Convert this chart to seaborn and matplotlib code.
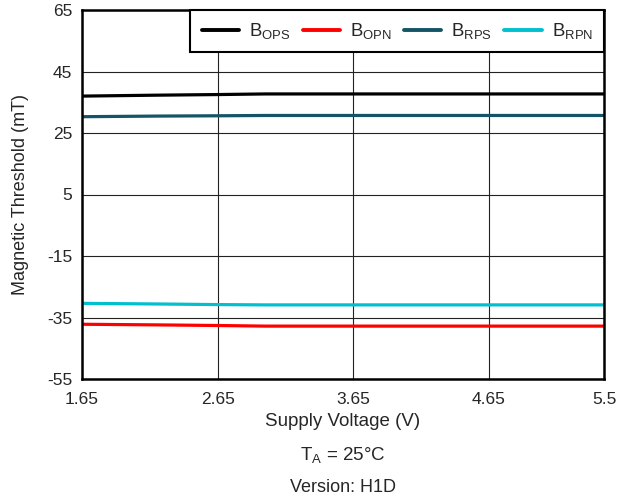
import matplotlib
matplotlib.use("Agg")
import matplotlib.pyplot as plt
import seaborn as sns
import pandas as pd

voltage = [1.65, 2.2, 2.65, 3.0, 3.65, 4.65, 5.5]
b_ops = [37.0, 37.3, 37.5, 37.7, 37.7, 37.7, 37.7]
b_opn = [-37.2, -37.4, -37.6, -37.8, -37.8, -37.8, -37.8]
b_rps = [30.3, 30.5, 30.6, 30.7, 30.7, 30.7, 30.7]
b_rpn = [-30.4, -30.6, -30.8, -30.9, -30.9, -30.9, -30.9]

series_names = [r"B$_{\mathrm{OPS}}$", r"B$_{\mathrm{OPN}}$", r"B$_{\mathrm{RPS}}$", r"B$_{\mathrm{RPN}}$"]
colors = ["#000000", "#ff0000", "#135467", "#00bfcf"]
x_ticks = [1.65, 2.65, 3.65, 4.65, 5.5]
x_tick_labels = ["1.65", "2.65", "3.65", "4.65", "5.5"]
y_ticks = [-55, -35, -15, 5, 25, 45, 65]

sns.set_style("white")
plt.rcParams["font.family"] = ["Liberation Sans", "DejaVu Sans"]
plt.rcParams["mathtext.fontset"] = "custom"
plt.rcParams["mathtext.rm"] = "Liberation Sans"
plt.rcParams["mathtext.it"] = "Liberation Sans"
plt.rcParams["axes.unicode_minus"] = False

rows = []
for name, vals in zip(series_names, [b_ops, b_opn, b_rps, b_rpn]):
    for v, b in zip(voltage, vals):
        rows.append({"V": v, "B": b, "series": name})
df = pd.DataFrame(rows)

L, R, T, B = 82, 604, 10, 379
fig = plt.figure(figsize=(6.32, 5.01), dpi=100)
ax = fig.add_axes([L/632, 1-B/501, (R-L)/632, (B-T)/501])

sns.lineplot(data=df, x="V", y="B", hue="series", palette=colors, linewidth=2.3, ax=ax)

ax.set_xlim(1.65, 5.5)
ax.set_ylim(-55, 65)
ax.set_xticks(x_ticks)
ax.set_xticklabels(x_tick_labels)
ax.set_yticks(y_ticks)
ax.grid(True, color="#222222", linewidth=0.8)
for s in ax.spines.values():
    s.set_linewidth(1.8)
    s.set_color("black")
ax.tick_params(axis="both", labelsize=12.5, length=0)
ax.tick_params(axis="x", pad=9.5)
ax.tick_params(axis="y", pad=7)
ax.set_xlabel("Supply Voltage (V)", fontsize=13.5, va="center")
ax.xaxis.set_label_coords(0.5, -(421-B)/(B-T))
ax.set_ylabel("Magnetic Threshold (mT)", fontsize=13, va="center", ha="center")
ax.yaxis.set_label_coords(-(L-21)/(R-L), 0.5)

leg = ax.legend(loc="upper right", ncol=4, fontsize=13.4, frameon=True, fancybox=False,
                borderaxespad=0, handlelength=2.0, columnspacing=0.65, handletextpad=0.55,
                borderpad=0.6)
leg.get_frame().set_edgecolor("black")
leg.get_frame().set_linewidth(1.5)
leg.get_frame().set_alpha(1)
for line in leg.get_lines():
    line.set_linewidth(2.8)

fig.text((L+R)/2/632, 1-455/501, r"T$_{\mathrm{A}}$ = 25°C", ha="center", va="center", fontsize=13.5)
fig.text((L+R)/2/632, 1-488/501, "Version: H1D", ha="center", va="center", fontsize=13)

fig.savefig("out.png", dpi=100)
